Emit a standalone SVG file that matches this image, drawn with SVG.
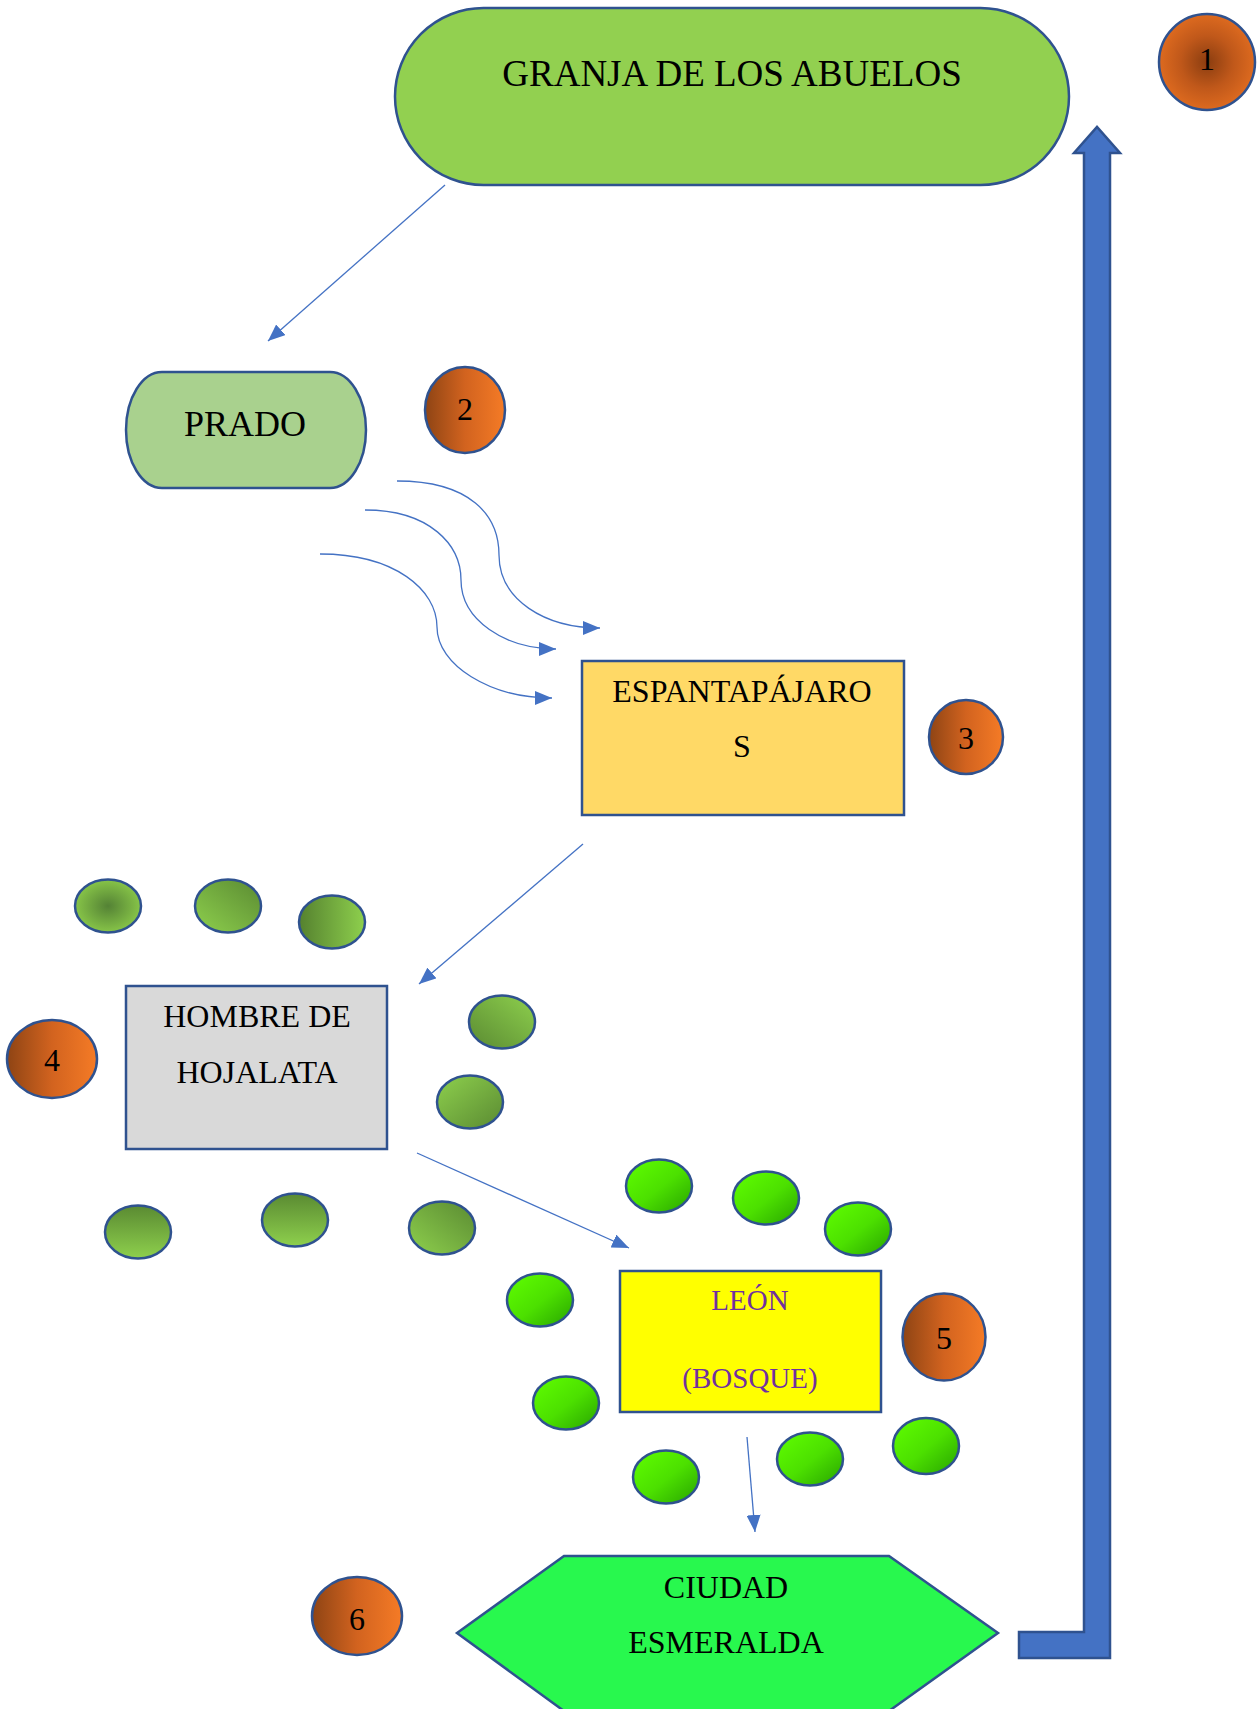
<svg xmlns="http://www.w3.org/2000/svg" width="1259" height="1709" viewBox="0 0 1259 1709">
<style>
.node{stroke:#2F528F;stroke-width:2.5}
.t{font-family:"Liberation Serif","Times New Roman",serif;text-anchor:middle;fill:#000}
.conn{fill:none;stroke:#4472C4;stroke-width:1.3}
.olive{stroke:#2F528F;stroke-width:2.5}
.lime{stroke:#2F528F;stroke-width:2.5;fill:url(#gLime)}
.num{stroke:#2F528F;stroke-width:2.5}
</style>
<defs>
<marker id="ah" markerUnits="userSpaceOnUse" markerWidth="17" markerHeight="14" refX="17" refY="7" orient="auto">
<path d="M0,0 L17,7 L0,14 Z" fill="#4472C4"/>
</marker>
<radialGradient id="gRad1" cx="0.5" cy="0.5" r="0.5">
<stop offset="0" stop-color="#8A3D10"/>
<stop offset="0.55" stop-color="#C0581A"/>
<stop offset="1" stop-color="#DD6A1F"/>
</radialGradient>
<linearGradient id="gOrange" x1="0" y1="0" x2="1" y2="0">
<stop offset="0" stop-color="#8E4414"/>
<stop offset="0.5" stop-color="#D2631F"/>
<stop offset="1" stop-color="#F57B26"/>
</linearGradient>
<radialGradient id="gOlRad" cx="0.5" cy="0.5" r="0.55">
<stop offset="0" stop-color="#548235"/>
<stop offset="1" stop-color="#8CCB4A"/>
</radialGradient>
<linearGradient id="gOlTR" x1="0" y1="1" x2="1" y2="0">
<stop offset="0" stop-color="#8ED04D"/>
<stop offset="1" stop-color="#5A8A32"/>
</linearGradient>
<linearGradient id="gOlL" x1="0" y1="0" x2="1" y2="0">
<stop offset="0" stop-color="#55812F"/>
<stop offset="1" stop-color="#8ED04D"/>
</linearGradient>
<linearGradient id="gOlBL" x1="0" y1="1" x2="1" y2="0">
<stop offset="0" stop-color="#5A8A32"/>
<stop offset="1" stop-color="#8ED04D"/>
</linearGradient>
<linearGradient id="gOlBR" x1="0" y1="0" x2="1" y2="1">
<stop offset="0" stop-color="#8ED04D"/>
<stop offset="1" stop-color="#5A8A32"/>
</linearGradient>
<linearGradient id="gOlT" x1="0" y1="0" x2="0" y2="1">
<stop offset="0" stop-color="#5A8A32"/>
<stop offset="1" stop-color="#8ED04D"/>
</linearGradient>
<linearGradient id="gLime" x1="0.15" y1="0.15" x2="0.9" y2="0.9">
<stop offset="0" stop-color="#5AF600"/>
<stop offset="0.5" stop-color="#4CE000"/>
<stop offset="1" stop-color="#2FB000"/>
</linearGradient>
</defs>
<rect width="1259" height="1709" fill="#FFFFFF"/>

<g id="connectors">
<line class="conn" x1="445" y1="185" x2="268" y2="341" marker-end="url(#ah)"/>
<path class="conn" d="M397,481 C470,481 499,515 499,555 C499,600 545,628 600,628" marker-end="url(#ah)"/>
<path class="conn" d="M365,510 C430,510 461,545 461,580 C461,620 505,649 556,649" marker-end="url(#ah)"/>
<path class="conn" d="M320,554 C395,554 437,590 437,627 C437,665 490,698 552,698" marker-end="url(#ah)"/>
<line class="conn" x1="583" y1="844" x2="419" y2="984" marker-end="url(#ah)"/>
<line class="conn" x1="417" y1="1153" x2="629" y2="1248" marker-end="url(#ah)"/>
<line class="conn" x1="747" y1="1437" x2="755" y2="1532" marker-end="url(#ah)"/>
<path id="return-arrow" d="M1019,1632 L1084,1632 L1084,153 L1074,153 L1097,127 L1120,153 L1110,153 L1110,1658 L1019,1658 Z" fill="#4472C4" stroke="#2F528F" stroke-width="2.5"/>
</g>

<g id="granja">
<rect class="node" x="395" y="8" width="674" height="177" rx="88.5" ry="88.5" fill="#92D050"/>
<text class="t" x="732" y="86" font-size="37">GRANJA DE LOS ABUELOS</text>
</g>
<g id="badge1">
<circle class="num" cx="1207" cy="62" r="48" fill="url(#gRad1)"/>
<text class="t" x="1207" y="70" font-size="32">1</text>
</g>

<g id="prado">
<path class="node" d="M162,372 L330,372 A36,58 0 0 1 330,488 L162,488 A36,58 0 0 1 162,372 Z" fill="#A9D18E"/>
<text class="t" x="245" y="436" font-size="36">PRADO</text>
</g>
<g id="badge2">
<ellipse class="num" cx="465" cy="410" rx="40" ry="43" fill="url(#gOrange)"/>
<text class="t" x="465" y="420" font-size="32">2</text>
</g>

<g id="espantapajaros">
<rect class="node" x="582" y="661" width="322" height="154" fill="#FFD966"/>
<text class="t" x="742" y="702" font-size="32">ESPANTAPÁJARO</text>
<text class="t" x="742" y="757" font-size="32">S</text>
</g>
<g id="badge3">
<ellipse class="num" cx="966" cy="737" rx="37" ry="37" fill="url(#gOrange)"/>
<text class="t" x="966" y="749" font-size="32">3</text>
</g>

<g id="olive-trees">
<ellipse class="olive" cx="108" cy="906" rx="33" ry="26.5" fill="url(#gOlRad)"/>
<ellipse class="olive" cx="228" cy="906" rx="33" ry="26.5" fill="url(#gOlTR)"/>
<ellipse class="olive" cx="332" cy="922" rx="33" ry="26.5" fill="url(#gOlL)"/>
<ellipse class="olive" cx="502" cy="1022" rx="33" ry="26.5" fill="url(#gOlBL)"/>
<ellipse class="olive" cx="470" cy="1102" rx="33" ry="26.5" fill="url(#gOlBR)"/>
<ellipse class="olive" cx="138" cy="1232" rx="33" ry="26.5" fill="url(#gOlT)"/>
<ellipse class="olive" cx="295" cy="1220" rx="33" ry="26.5" fill="url(#gOlT)"/>
<ellipse class="olive" cx="442" cy="1228" rx="33" ry="26.5" fill="url(#gOlTR)"/>
</g>

<g id="hombre-hojalata">
<rect class="node" x="126" y="986" width="261" height="163" fill="#D9D9D9"/>
<text class="t" x="257" y="1027" font-size="32">HOMBRE DE</text>
<text class="t" x="257" y="1083" font-size="32">HOJALATA</text>
</g>
<g id="badge4">
<ellipse class="num" cx="52" cy="1059" rx="45" ry="39" fill="url(#gOrange)"/>
<text class="t" x="52" y="1071" font-size="32">4</text>
</g>

<g id="lime-trees">
<ellipse class="lime" cx="659" cy="1186" rx="33" ry="26.5"/>
<ellipse class="lime" cx="766" cy="1198" rx="33" ry="26.5"/>
<ellipse class="lime" cx="858" cy="1229" rx="33" ry="26.5"/>
<ellipse class="lime" cx="540" cy="1300" rx="33" ry="26.5"/>
<ellipse class="lime" cx="566" cy="1403" rx="33" ry="26.5"/>
<ellipse class="lime" cx="666" cy="1477" rx="33" ry="26.5"/>
<ellipse class="lime" cx="810" cy="1459" rx="33" ry="26.5"/>
<ellipse class="lime" cx="926" cy="1446" rx="33" ry="28"/>
</g>

<g id="leon">
<rect class="node" x="620" y="1271" width="261" height="141" fill="#FFFF00"/>
<text class="t" x="750" y="1310" font-size="29" style="fill:#7030A0">LEÓN</text>
<text class="t" x="750" y="1388" font-size="29" style="fill:#7030A0">(BOSQUE)</text>
</g>
<g id="badge5">
<ellipse class="num" cx="944" cy="1337" rx="41.5" ry="43.5" fill="url(#gOrange)"/>
<text class="t" x="944" y="1349" font-size="32">5</text>
</g>

<g id="ciudad-esmeralda">
<polygon class="node" points="457,1633 564,1556 889,1556 998,1633 889,1711 564,1711" fill="#28F84E"/>
<text class="t" x="726" y="1598" font-size="32">CIUDAD</text>
<text class="t" x="726" y="1653" font-size="32">ESMERALDA</text>
</g>
<g id="badge6">
<ellipse class="num" cx="357" cy="1616" rx="45" ry="39" fill="url(#gOrange)"/>
<text class="t" x="357" y="1630" font-size="32">6</text>
</g>
</svg>
